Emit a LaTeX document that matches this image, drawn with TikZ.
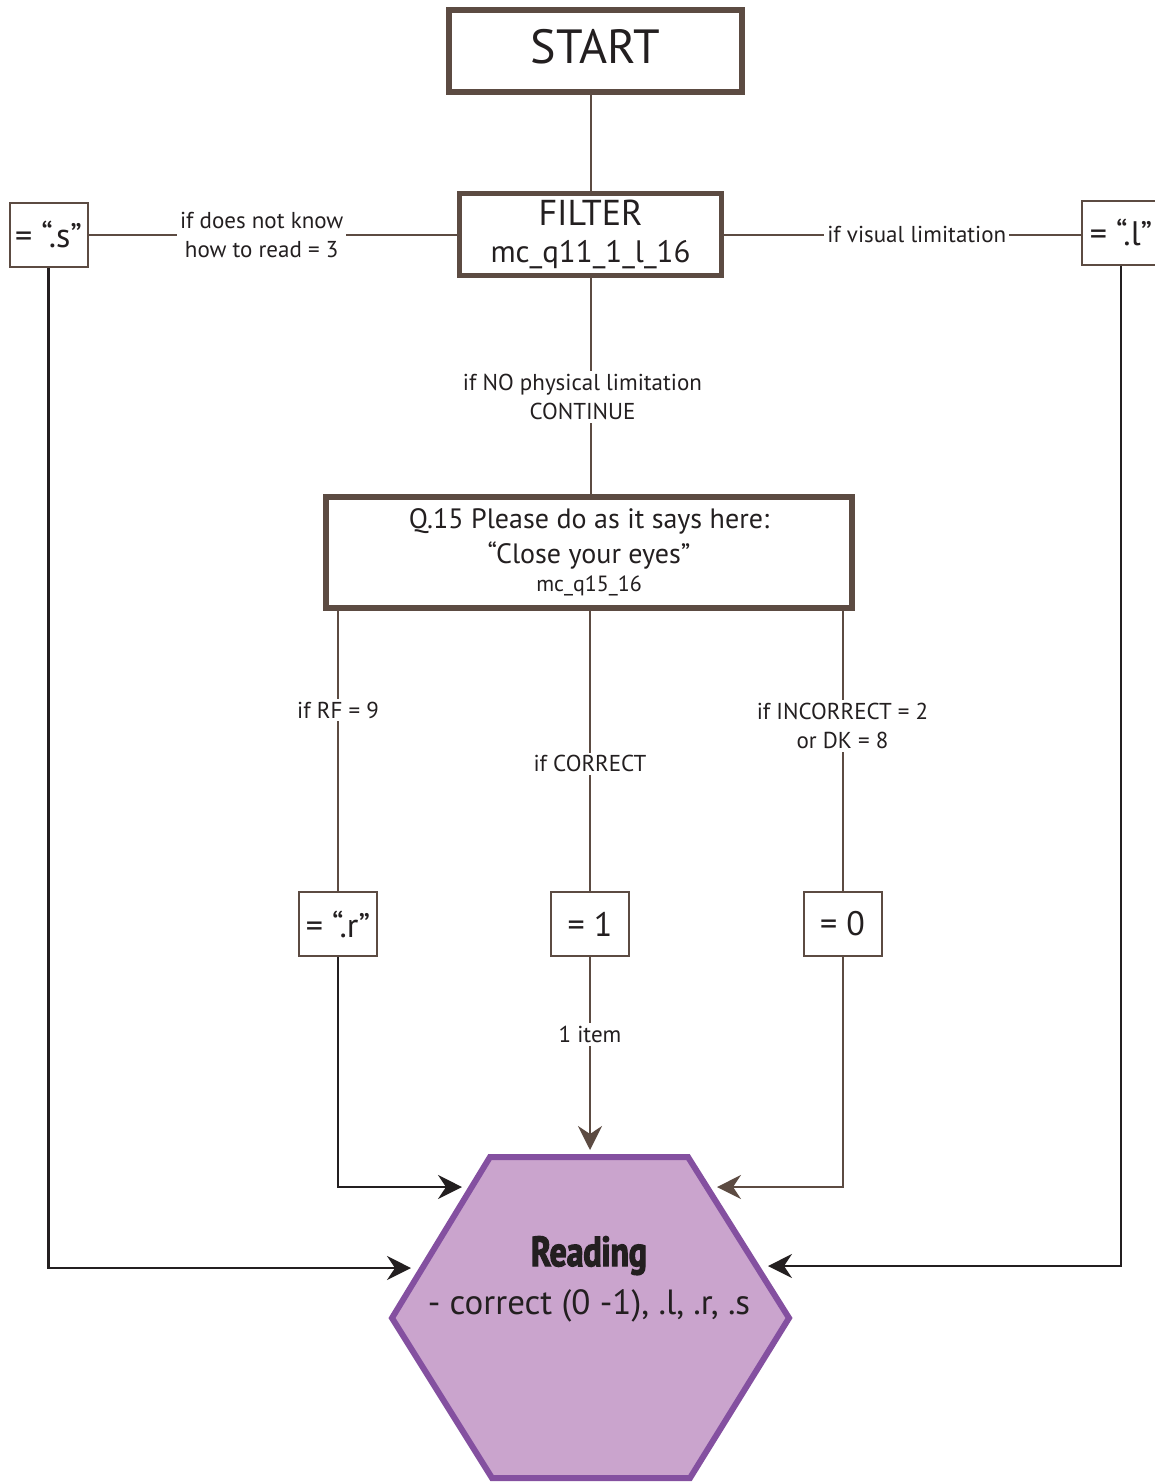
\documentclass[tikz,border=0pt]{standalone}
\usepackage{fontspec}
\setmainfont{PT Sans}
\newfontfamily\readfont[FakeStretch=0.8,FakeBold=3]{PT Sans}
\usetikzlibrary{arrows.meta}
\definecolor{brn}{RGB}{92,75,66}
\definecolor{blk}{RGB}{35,31,32}
\definecolor{hexf}{RGB}{202,164,205}
\definecolor{hexb}{RGB}{132,80,160}
\begin{document}
\begin{tikzpicture}[x=1pt,y=-1pt,
  brownline/.style={draw=brn, line width=2pt},
  blackline/.style={draw=blk, line width=2.2pt},
  bigbox/.style={draw=brn, line width=6pt, fill=white, inner sep=0pt, align=center, text=blk},
  valbox/.style={draw=brn, line width=2pt, fill=white, minimum width=78pt, minimum height=64pt, inner sep=0pt, text=blk, font=\fontsize{34}{38}\selectfont},
  lbl/.style={fill=white, inner sep=3pt, align=center, text=blk, font=\fontsize{23}{29}\selectfont},
  tipb/.style={-{Stealth[length=24pt,width=24pt,inset=8pt,fill=blk]}},
  tipr/.style={-{Stealth[length=24pt,width=24pt,inset=8pt,fill=brn]}}
]
\useasboundingbox (0,0) rectangle (1155,1482);

% boxes
\node[bigbox, minimum width=293pt, minimum height=82pt, text depth=10pt, font=\fontsize{48}{52}\selectfont] (start) at (595.5,51) {START};
\node[bigbox, line width=5pt, minimum width=262pt, minimum height=82pt, font=\fontsize{36}{37}\selectfont] (filter) at (590.5,234.5)
  {FILTER\\{\fontsize{31}{37}\selectfont mc\_q11\_1\_l\_16}};
\node[bigbox, minimum width=526pt, minimum height=111pt, font=\fontsize{28}{35}\selectfont] (q15) at (589,552.5)
  {Q.15 Please do as it says here:\\“Close your eyes”\\[-7pt]{\fontsize{22}{28}\selectfont mc\_q15\_16}};

\node[valbox] (s) at (48.5,234.5) {= “.s”};
\node[valbox] (l) at (1121,232.5) {= “.l”};
\node[valbox] (r) at (338,924) {= “.r”};
\node[valbox] (one) at (590,924) {= 1};
\node[valbox] (zero) at (842.5,924) {= 0};

% hexagon
\coordinate (h1) at (490,1157);
\coordinate (h2) at (688,1157);
\coordinate (h3) at (789,1318);
\coordinate (h4) at (690,1478);
\coordinate (h5) at (492,1478);
\coordinate (h6) at (392,1318);
\draw[draw=hexb, fill=hexf, line width=6pt, line join=miter] (h1)--(h2)--(h3)--(h4)--(h5)--(h6)--cycle;
\node[align=center, text=blk, font=\fontsize{35}{48}\selectfont] (hex) at (589,1279)
  {{\readfont\bfseries\fontsize{42}{48}\selectfont Reading}\\- correct (0 -1), .l, .r, .s};

\coordinate (inR) at (462,1187);
\coordinate (inZ) at (717,1187);
\coordinate (inS) at (411,1268);
\coordinate (inL) at (768,1266);
\coordinate (inOne) at (590,1150);

% connectors
\draw[brownline] (filter.north) -- (filter.north |- start.south);
\draw[brownline] (filter.west) -- (s.east) node[lbl, pos=0.53] {if does not know\\how to read = 3};
\draw[brownline] (filter.east) -- (filter.east -| l.west) node[lbl, pos=0.54] {if visual limitation};
\draw[brownline] (filter.south) -- (filter.south |- q15.north) node[lbl, pos=0.55, xshift=-8pt] {if NO physical limitation\\CONTINUE};

\draw[brownline] (r.north |- q15.south) -- (r.north) node[lbl, pos=0.354] {if RF = 9};
\draw[brownline] (one.north |- q15.south) -- (one.north) node[lbl, pos=0.546] {if CORRECT};
\draw[brownline] (zero.north |- q15.south) -- (zero.north) node[lbl, pos=0.41] {if INCORRECT = 2\\or DK = 8};

\draw[brownline, tipr] (one.south) -- (inOne) node[lbl, pos=0.4] {1 item};
\draw[blackline, tipb] (r.south) |- (inR);
\draw[brownline, tipr] (zero.south) |- (inZ);
\draw[blackline, tipb] (s.south) |- (inS);
\draw[blackline, tipb] (l.south) |- (inL);
\end{tikzpicture}
\end{document}
